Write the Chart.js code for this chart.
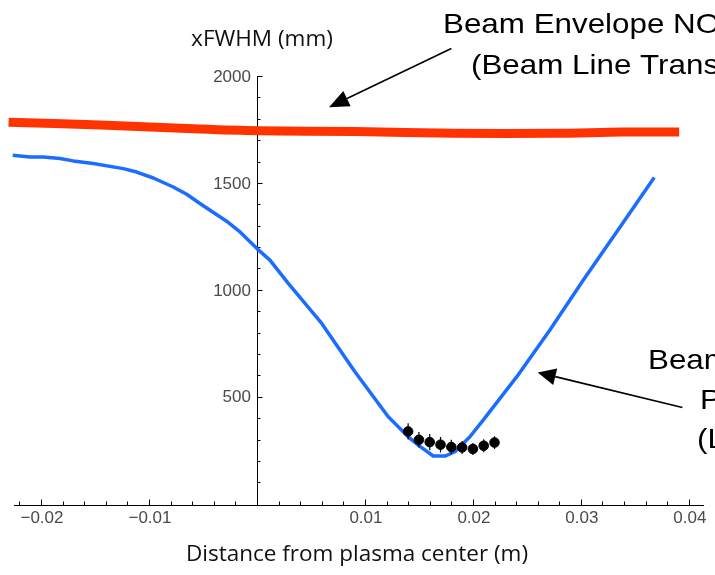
<!DOCTYPE html>
<html><head><meta charset="utf-8">
<script src="https://cdn.jsdelivr.net/npm/chart.js@4/dist/chart.umd.min.js"></script>
<style>html,body{margin:0;padding:0;background:#fff;}#wrap{width:715px;height:575px;position:relative;}</style>
</head><body><div id="wrap"><canvas id="c" width="715" height="575"></canvas></div>
<script>
// ---- data ----
const noPlasmaX = [-0.0230, -0.0145, -0.0053, 0.0, 0.0091, 0.0183, 0.0276, 0.0338, 0.0391];
const noPlasmaY = [1784, 1771, 1752, 1744, 1740, 1732, 1732, 1738, 1738];

const plasmaX = [-0.02262, -0.02102, -0.01979, -0.01824, -0.01701, -0.01516, -0.01238, -0.01114, -0.0096, -0.00775,
  -0.00651, -0.00528, -0.00281, -0.00157, 0.0, 0.0012, 0.0029, 0.0060, 0.00907, 0.01216, 0.01401, 0.01494,
  0.01632, 0.01741, 0.01833, 0.01972, 0.02095, 0.02405, 0.02713, 0.03021, 0.03331, 0.03679];
const plasmaY = [1629, 1621, 1621, 1614, 1603, 1591, 1567, 1551, 1523, 1481,
  1447, 1404, 1321, 1271, 1193, 1139, 1030, 843, 617, 407, 313, 274,
  223, 223, 243, 313, 391, 593, 812, 1045, 1271, 1525];

const measX = [0.014, 0.015, 0.016, 0.017, 0.018, 0.019, 0.020, 0.021, 0.022];
const measY = [338, 299, 288, 276, 265, 263, 256, 271, 286];
const measErr = [38, 36, 38, 36, 34, 30, 28, 30, 30];

const xMajorTicks = [-0.02, -0.01, 0.01, 0.02, 0.03, 0.04];
const xTickLabels = ['\u22120.02', '\u22120.01', '0.01', '0.02', '0.03', '0.04'];
const yMajorTicks = [500, 1000, 1500, 2000];
const yTickLabels = ['500', '1000', '1500', '2000'];
const xMinorStep = 0.002;
const yMinorStep = 100;

const xTitle = 'Distance from plasma center (m)';
const yTitle = 'xFWHM (mm)';
const noteTop = ['Beam Envelope NO Plasma', '(Beam Line Transport)'];
const noteRight = ['Beam Envelope', 'Plasma ON', '(Lens Focusing)'];
// arrows in data coordinates: [tailX, tailY, tipX, tipY]
const arrowTop = [0.0180, 2129, 0.00667, 1854];
const arrowRight = [0.0394, 450, 0.0260, 614];

const X_MIN = -0.0225, X_MAX = 0.0414, Y_MIN = -6, Y_MAX = 2000;

const toPts = (xs, ys) => xs.map((x, i) => ({x: x, y: ys[i]}));

const axesPlugin = {
  id: 'mmaAxes',
  beforeDatasetsDraw(chart) {
    const ctx = chart.ctx, xs = chart.scales.x, ys = chart.scales.y;
    const x0 = xs.getPixelForValue(0);
    const yb = ys.getPixelForValue(Y_MIN);
    ctx.save();
    ctx.strokeStyle = '#000';
    ctx.lineWidth = 1;
    ctx.beginPath();
    ctx.moveTo(xs.getPixelForValue(X_MIN), yb + 0.5);
    ctx.lineTo(xs.getPixelForValue(X_MAX), yb + 0.5);
    ctx.stroke();
    ctx.beginPath();
    ctx.moveTo(Math.round(x0) + 0.5, yb);
    ctx.lineTo(Math.round(x0) + 0.5, ys.getPixelForValue(Y_MAX));
    ctx.stroke();
    ctx.beginPath();
    for (let k = Math.ceil(X_MIN / xMinorStep); k * xMinorStep <= X_MAX + 1e-9; k++) {
      if (k === 0) continue;
      const v = k * xMinorStep;
      const major = Math.abs(v / 0.01 - Math.round(v / 0.01)) < 1e-6;
      const px = Math.round(xs.getPixelForValue(v)) + 0.5;
      ctx.moveTo(px, yb);
      ctx.lineTo(px, yb - (major ? 5.5 : 3.5));
    }
    for (let v = yMinorStep; v <= Y_MAX; v += yMinorStep) {
      const major = v % 500 === 0;
      const py = Math.round(ys.getPixelForValue(v)) + 0.5;
      ctx.moveTo(Math.round(x0), py);
      ctx.lineTo(Math.round(x0) + (major ? 5.5 : 3.5), py);
    }
    ctx.stroke();
    ctx.fillStyle = '#4a4a4a';
    ctx.font = '17px "Liberation Sans", Arial, sans-serif';
    ctx.textAlign = 'center';
    ctx.textBaseline = 'middle';
    xMajorTicks.forEach((v, i) => {
      ctx.fillText(xTickLabels[i], xs.getPixelForValue(v) + 1, yb + 13);
    });
    ctx.textAlign = 'right';
    yMajorTicks.forEach((v, i) => {
      ctx.fillText(yTickLabels[i], x0 - 6, ys.getPixelForValue(v) + 1);
    });
    ctx.fillStyle = '#111';
    ctx.font = '22.5px "Open Sans", "Noto Sans", sans-serif';
    ctx.textAlign = 'center';
    ctx.fillText(yTitle, 262, 40);
    ctx.fillText(xTitle, 357, 555);
    ctx.restore();
  },
  afterDatasetDraw(chart, args) {
    if (args.index !== 1) return;
    const ctx = chart.ctx, xs = chart.scales.x, ys = chart.scales.y;
    ctx.save();
    ctx.strokeStyle = '#000';
    ctx.lineWidth = 1.2;
    ctx.beginPath();
    measX.forEach((x, i) => {
      const px = xs.getPixelForValue(x);
      ctx.moveTo(px, ys.getPixelForValue(measY[i] + measErr[i]));
      ctx.lineTo(px, ys.getPixelForValue(measY[i] - measErr[i]));
    });
    ctx.stroke();
    ctx.restore();
  },
  afterDraw(chart) {
    const ctx = chart.ctx, xs = chart.scales.x, ys = chart.scales.y;
    const drawArrow = (a, len, half) => {
      const x1 = xs.getPixelForValue(a[0]), y1 = ys.getPixelForValue(a[1]);
      const x2 = xs.getPixelForValue(a[2]), y2 = ys.getPixelForValue(a[3]);
      const ang = Math.atan2(y2 - y1, x2 - x1);
      const bx = x2 - len * Math.cos(ang), by = y2 - len * Math.sin(ang);
      ctx.beginPath();
      ctx.moveTo(x1, y1); ctx.lineTo(bx, by); ctx.stroke();
      ctx.beginPath();
      ctx.moveTo(x2, y2);
      ctx.lineTo(bx + half * Math.sin(ang), by - half * Math.cos(ang));
      ctx.lineTo(bx - half * Math.sin(ang), by + half * Math.cos(ang));
      ctx.closePath(); ctx.fill();
    };
    ctx.save();
    ctx.strokeStyle = '#000'; ctx.fillStyle = '#000'; ctx.lineWidth = 1.6;
    drawArrow(arrowTop, 20, 8.5);
    drawArrow(arrowRight, 18, 8.5);
    const line = (txt, x, y) => {
      ctx.save(); ctx.translate(x, y); ctx.scale(1.12, 1); ctx.fillText(txt, 0, 0); ctx.restore();
    };
    ctx.font = '28px "Liberation Sans", Arial, sans-serif';
    ctx.textAlign = 'left'; ctx.textBaseline = 'alphabetic';
    line(noteTop[0], 443, 33);
    line(noteTop[1], 471, 74);
    line(noteRight[0], 648, 369);
    line(noteRight[1], 700, 409);
    line(noteRight[2], 697, 448);
    ctx.restore();
  }
};

new Chart(document.getElementById('c'), {
  type: 'scatter',
  data: {
    datasets: [
      { label: 'measured', data: toPts(measX, measY), backgroundColor: '#000', borderColor: '#000',
        pointRadius: 4.8, pointHoverRadius: 4.8, showLine: false, clip: false },
      { label: 'plasma', data: toPts(plasmaX, plasmaY), borderColor: '#1a6dff', borderWidth: 3.5,
        pointRadius: 0, showLine: true, tension: 0, clip: false, borderJoinStyle: 'round' },
      { label: 'noPlasma', data: toPts(noPlasmaX, noPlasmaY), borderColor: '#ff3300', borderWidth: 9,
        pointRadius: 0, showLine: true, tension: 0.3, clip: false, borderCapStyle: 'butt' }
    ]
  },
  options: {
    responsive: false, animation: false, devicePixelRatio: 1,
    layout: { padding: { left: 14, right: 11, top: 76, bottom: 70 } },
    plugins: { legend: { display: false }, tooltip: { enabled: false }, title: { display: false } },
    scales: {
      x: { type: 'linear', min: X_MIN, max: X_MAX, display: false },
      y: { type: 'linear', min: Y_MIN, max: Y_MAX, display: false }
    }
  },
  plugins: [axesPlugin]
});
</script></body></html>
